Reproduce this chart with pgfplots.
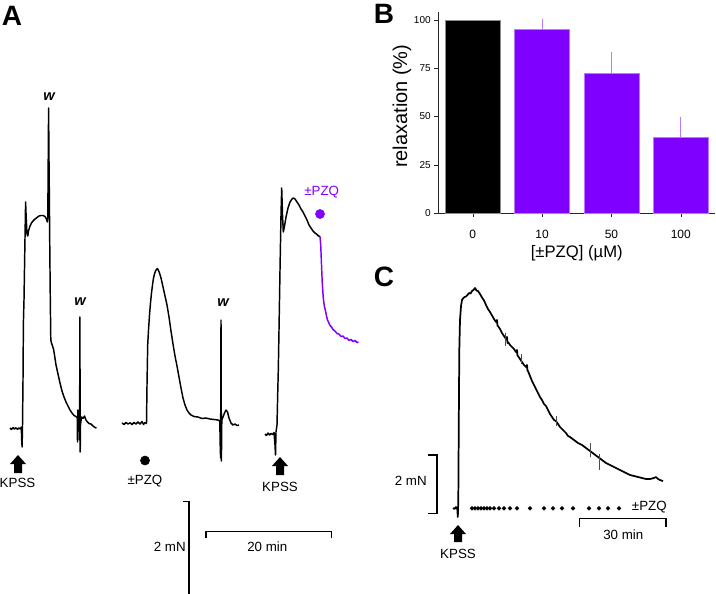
\documentclass[border=0pt]{standalone}
\usepackage{pgfplots}
\pgfplotsset{compat=1.18}
\usepackage{fontspec}
\setmainfont{Liberation Sans}
\definecolor{pv}{RGB}{128,0,255}
\definecolor{pvl}{RGB}{185,120,255}
\newcommand{\fs}[1]{\fontsize{#1}{#1}\selectfont}
\begin{document}
\begin{tikzpicture}
\begin{axis}[at={(0,0)},anchor=south west,scale only axis,width=537pt,height=444.75pt,
  xmin=0,xmax=716,ymin=0,ymax=593,y dir=reverse,hide axis,clip=false]
% ---------- Panel A, trace 1
\addplot[black,line width=1.1pt,line join=round] coordinates {
(10,428)(11.5,429.5)(13,427.5)(14.5,429)(16,427.8)(17.5,429.2)(19,428)(20.5,429)(21.3,427)(21.7,440)(22.1,447)(22.5,426)(23,380)(23.4,323)(24,300)(24.8,250)(25.6,202)(26.2,218)(27,234)(27.8,236)(28.5,231)(30,226)(31.5,223)(33,221)(35,219)(37,217.5)(39,216)(41,215.5)(43,215.5)(45,216.5)(46.5,219)(47.3,222)(47.8,218)(48.3,150)(48.6,108)(48.9,150)(49.3,190)(49.8,250)(50.3,300)(50.8,340)(51.5,343)(52.5,346)(53.5,349)(54.5,355)(56,365)(58,374)(60,383)(62,391)(64,397)(66,402)(68,406)(70,410)(72,413)(74,415.5)(76,416.5)(77.3,418)(77.5,442)(77.8,410)(79.3,419)(79.6,440)(79.9,317)(80.2,452)(80.5,425)(81.5,417)(83,418.5)(84.5,416)(86,420)(87.5,422)(89,423.5)(91,424)(93,426)(95,427.5)(96.5,428)};
% ---------- Panel A, trace 2
\addplot[black,line width=1.1pt,line join=round] coordinates {
(122,423)(124,424.5)(126,422.5)(128,424)(130,422.8)(132,424.5)(134,422.5)(136,424)(138,422)(140,424)(142,421.5)(143.5,424.5)(145,422.5)(146.5,423.5)(147,385)(147.7,345)(148.5,330)(149.5,315)(150.5,303)(151.5,293)(152.5,285)(153.5,278)(154.5,274)(155.5,271)(156.5,269.5)(157.3,268.5)(158.3,270)(159.5,273)(161,278)(163,287)(165,296)(167,305)(169,317)(171,331)(173,344)(175,356)(177,366)(179,377)(181,388)(183,398)(185,405)(187,410)(189,413)(191,415)(194,416.5)(198,417)(202,418.5)(206,418)(210,419)(214,419.5)(218,420)(219.8,421)(220.2,445)(220.6,458)(221,320)(221.4,461)(221.8,420)(223,417)(224.5,413)(226,410)(227.5,412)(229,418)(231,423)(233,425)(235,424)(237,425.5)(239,425)};
% ---------- Panel A, trace 3
\addplot[black,line width=1.1pt,line join=round] coordinates {
(265,434)(266.5,435.5)(268,433)(269.5,435)(271,433.5)(272.5,434.5)(274,432.5)(275,445)(275.5,455)(276,432)(277,425)(277.8,390)(278.3,370)(279,330)(280,270)(281,215)(281.7,188)(282.5,215)(283.3,232)(284.5,226)(286,217)(288,208)(290,202)(292,199)(293.3,198)(295,199)(297,202)(299,205)(301,209)(303,212)(305,216)(307,220)(309,225)(311,228)(313,231)(315,233)(317,234.5)(318.5,236)(320,236.5)};
\addplot[pv,line width=1.1pt,line join=round] coordinates {
(320,236.5)(320.7,245)(321.4,262)(322.2,282)(323.2,297)(324.3,306)(325.5,311)(326.5,316)(327.5,320)(328.5,322)(330,325.5)(331.5,327)(333,329.5)(335,331)(337,333.5)(339,334)(341,336.5)(343,336)(345,338.5)(347,338)(349,340.5)(351,339.5)(353,341.5)(355,340.5)(357,342.5)(358.5,342)};
% arrows (KPSS)
\addplot[fill=black,draw=none] coordinates {(18,455)(26,464)(22,464)(22,473)(14,473)(14,464)(10,464)} --cycle;
\addplot[fill=black,draw=none] coordinates {(280,457)(288,466)(284,466)(284,475)(276,475)(276,466)(272,466)} --cycle;
\addplot[fill=black,draw=none] coordinates {(458,525)(466,534)(462,534)(462,542)(454,542)(454,534)(450,534)} --cycle;
% dots
\addplot[only marks,mark=*,mark size=3.4pt,black] coordinates {(145,460.5)};
\addplot[only marks,mark=*,mark size=3.4pt,pv] coordinates {(320,214)};
% scale bars panel A
\addplot[black,line width=0.8pt] coordinates {(183,501.7)(189,501.7)(189,600)};
\addplot[black,line width=0.8pt] coordinates {(206,538)(206,531.7)(331.7,531.7)(331.7,538)};
% ---------- Panel C trace
\addplot[black,line width=1.3pt,line join=round] coordinates {
(453,508)(454.5,509)(456,507)(457.3,509)(457.8,517)(458.3,500)(458.8,420)(459.3,350)(460,320)(461,306)(462,300)(463,298.5)(464.5,297)(466,296.5)(467.5,295)(469,293)(470.5,293.5)(472,291)(473.5,290)(475,288)(476.5,290.5)(478,291)(480,294)(482,297.5)(484,300.5)(486,305)(488,309)(490,312)(492,315.5)(494,319)(496,322)(497,320)(497.5,326)(498,326)(500,329)(502,333)(504,336)(506,339)(507,337)(507.5,343)(508,342)(510,345)(512,347)(514,349)(516,352)(517,350)(517.5,356)(518,356)(520,359)(522,362)(524,365)(526,367)(527,365)(527.5,371)(528,371)(530,376)(532,381)(534,385)(536,389)(538,393)(540,397)(542,400)(544,404)(546,406)(548,410)(550,414)(552,417)(554,420)(556,421)(558,424)(560,427)(562,429)(564,431)(566,433)(568,436)(570,437)(574,440)(578,443)(582,445)(586,448)(590,451)(594,454)(598,457)(602,460)(606,463)(610,465)(614,467)(618,469)(622,471)(626,473)(630,475)(634,476)(638,477)(642,478)(646,479)(650,479)(654,478)(656,477)(658,479)(660,480)(663,481)};
\addplot[black!70,line width=0.3pt] coordinates {(505,333)(505,346)};
\addplot[black!70,line width=0.3pt] coordinates {(521,354)(521,364)};
\addplot[black!70,line width=0.3pt] coordinates {(590,443)(590,457)};
\addplot[black!70,line width=0.3pt] coordinates {(599.5,454)(599.5,470)};
\addplot[black!70,line width=0.3pt] coordinates {(556,416)(556,426)};
% dots panel C
\addplot[only marks,mark=*,mark size=1.4pt,black] coordinates {
(472,508.3)(475,508.3)(478,508.3)(481,508.3)(484,508.3)(487,508.3)(490,508.3)(494,508.3)(499,508.3)(504,508.3)(510,508.3)(517,508.3)(530,508.3)(544,508.3)(553,508.3)(562,508.3)(573,508.3)(589,508.3)(599,508.3)(608,508.3)(619,508.3)};
% scale bars panel C
\addplot[black,line width=0.8pt] coordinates {(428,455)(437,455)(437,513.3)(428,513.3)};
\addplot[black,line width=0.8pt] coordinates {(579.3,527)(579.3,518.3)(666,518.3)(666,527)};
% ---------- texts
\node[font=\fs{21}\bfseries] at (axis cs:12,16) {A};
\node[font=\fs{21}\bfseries] at (axis cs:384,14) {B};
\node[font=\fs{21}\bfseries] at (axis cs:384,277) {C};
\node[font=\fs{11}\bfseries\itshape] at (axis cs:49,97) {w};
\node[font=\fs{11}\bfseries\itshape] at (axis cs:80,302) {w};
\node[font=\fs{11}\bfseries\itshape] at (axis cs:223,303) {w};
\node[font=\fs{10}] at (axis cs:17.5,483) {KPSS};
\node[font=\fs{10}] at (axis cs:145,481.5) {±PZQ};
\node[font=\fs{10}] at (axis cs:280,487) {KPSS};
\node[font=\fs{10},text=pv] at (axis cs:321.7,191.7) {±PZQ};
\node[font=\fs{10},anchor=east,inner sep=0pt] at (axis cs:186,546.7) {2 mN};
\node[font=\fs{10}] at (axis cs:267.3,546.7) {20 min};
\node[font=\fs{10},anchor=east,inner sep=0pt] at (axis cs:427,481) {2 mN};
\node[font=\fs{10},anchor=west,inner sep=0pt] at (axis cs:631.7,507) {±PZQ};
\node[font=\fs{10}] at (axis cs:623.3,535) {30 min};
\node[font=\fs{10}] at (axis cs:458,553.5) {KPSS};
\end{axis}
% ---------- Panel B bar chart
\begin{axis}[at={(328.5pt,285pt)},anchor=south west,scale only axis,
  width=208.1pt,height=151pt,
  xmin=-0.5,xmax=3.5,ymin=0,ymax=104.3,
  axis x line*=bottom,axis y line*=left,axis line style={black!85,-},
  xtick={0,1,2,3},xticklabels={0,10,50,100},
  ytick={0,25,50,75,100},
  tick align=outside,major tick length=3pt,tick style={black!85},
  /pgf/number format/assume math mode=true,
  xticklabel style={font=\fs{9},yshift=-6.5pt},
  yticklabel style={font=\fs{7.5},xshift=1pt},
  xlabel={[±PZQ] (µM)},ylabel={relaxation (\%)},
  xlabel style={font=\fs{12.5},at={(axis description cs:0.5,-0.2)},anchor=center},
  ylabel style={font=\fs{15},at={(axis description cs:-0.13,0.53)},anchor=center,rotate=0},
  clip=false]
\addplot[ybar,bar shift=0pt,bar width=0.79,fill=black,draw=black!45] coordinates {(0,100)};
\addplot[ybar,bar shift=0pt,bar width=0.79,fill=pv,draw=pvl,
  error bars/.cd,y dir=plus,y explicit,
  error bar style={pvl,line width=0.5pt},
  error mark options={pvl,mark size=1.5pt,line width=0.5pt}]
  coordinates {(1,95.2) +- (0,4.5) (2,72.5) +- (0,10) (3,39) +- (0,9.8)};
\end{axis}
\pgfresetboundingbox
\path[use as bounding box] (0,0) rectangle (537pt,444.75pt);
\end{tikzpicture}
\end{document}
